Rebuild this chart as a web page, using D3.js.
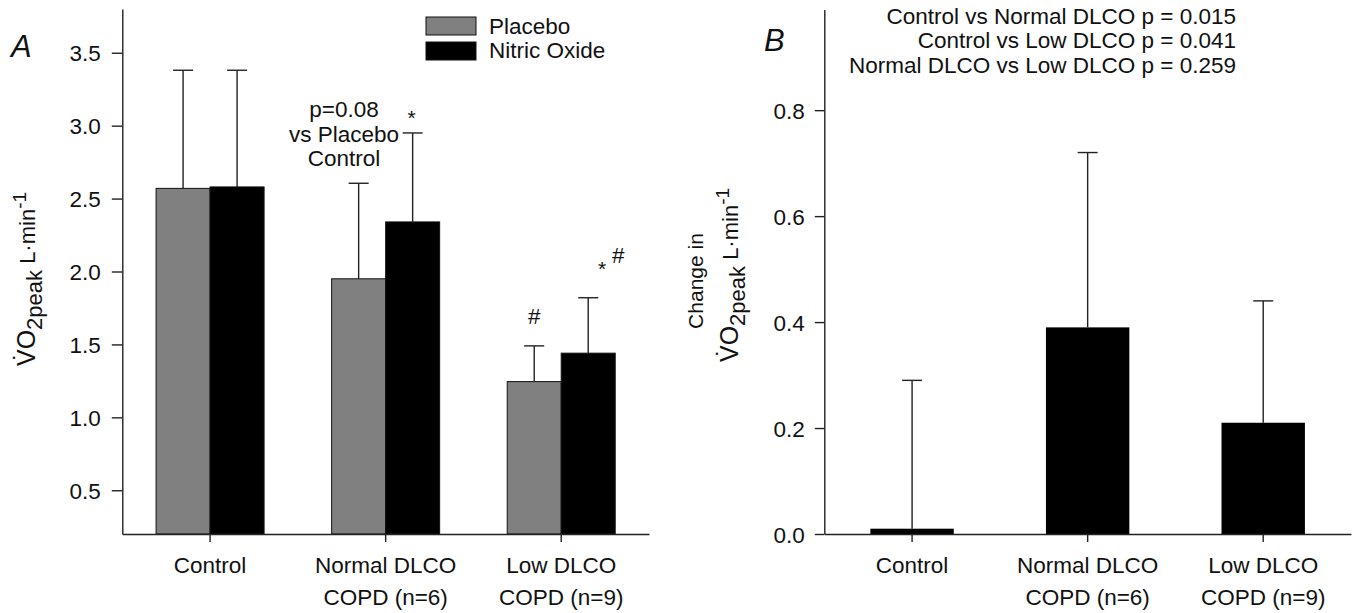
<!DOCTYPE html>
<html><head><meta charset="utf-8">
<script src="https://cdn.jsdelivr.net/npm/d3@7"></script>
<style>
body{margin:0;background:#fff}
svg{display:block}
text{font-family:"Liberation Sans",Arial,sans-serif;fill:#111}
</style>
</head><body>
<svg id="c" width="1354" height="613"></svg>
<script>
// ---------- data ----------
const categories = ["Control", "Normal DLCO\nCOPD (n=6)", "Low DLCO\nCOPD (n=9)"];
const seriesA = ["Placebo", "Nitric Oxide"];
const placeboMean = [2.57, 1.95, 1.245];
const placeboErr  = [0.81, 0.655, 0.245];
const noMean      = [2.58, 2.34, 1.44];
const noErr       = [0.80, 0.61, 0.38];
const ticksA      = [0.5, 1.0, 1.5, 2.0, 2.5, 3.0, 3.5];
const changeMean  = [0.01, 0.39, 0.21];
const changeErr   = [0.28, 0.33, 0.23];
const ticksB      = [0.0, 0.2, 0.4, 0.6, 0.8];
const pValueLines = ["Control vs Normal DLCO p = 0.015", "Control vs Low DLCO p = 0.041", "Normal DLCO vs Low DLCO p = 0.259"];
const noteLines   = ["p=0.08", "vs Placebo", "Control"];

// ---------- setup ----------
const svg = d3.select("#c");
const FS = 22.5, AX = "#222";
const colors = {"Placebo": "#808080", "Nitric Oxide": "#000"};

function styleAxis(g) {
  g.selectAll("path,line").attr("stroke", AX).attr("stroke-width", 1.4);
  g.selectAll("text").style("font-size", FS + "px").attr("fill", "#111");
}
function catLabels(g, x, y0) {
  categories.forEach(c => {
    c.split("\n").forEach((s, i) => {
      g.append("text").attr("x", x(c) + x.bandwidth() / 2).attr("y", y0 + i * 32)
        .attr("text-anchor", "middle").style("font-size", FS + "px").text(s);
    });
  });
}
function yTitle(g, x, y) {
  const t = g.append("text").attr("transform", `translate(${x},${y}) rotate(-90)`)
    .attr("text-anchor", "middle").style("font-size", "22px");
  t.append("tspan").style("font-size", "25px").text("V\u0307O");
  t.append("tspan").attr("dy", "0.3em").text("2peak");
  t.append("tspan").attr("dy", "-0.3em").text(" L\u00B7min");
  t.append("tspan").attr("dy", "-0.45em").style("font-size", "19px").text("-1");
}
function errBar(g, cx, yTop, yBot, half) {
  g.append("line").attr("x1", cx).attr("x2", cx).attr("y1", yBot).attr("y2", yTop)
    .attr("stroke", AX).attr("stroke-width", 1.4);
  g.append("line").attr("x1", cx - half).attr("x2", cx + half).attr("y1", yTop).attr("y2", yTop)
    .attr("stroke", AX).attr("stroke-width", 1.4);
}

// ---------- panel A ----------
const gA = svg.append("g");
const xA = d3.scaleBand().domain(categories).range([122.3, 649]);
const yA = d3.scaleLinear().domain([0.2, 3.8]).range([534, 9]);
const xSub = d3.scaleBand().domain(seriesA).range([-54, 54]);

const dataA = [];
categories.forEach((c, i) => {
  dataA.push({c, s: "Placebo", v: placeboMean[i], e: placeboErr[i]});
  dataA.push({c, s: "Nitric Oxide", v: noMean[i], e: noErr[i]});
});
dataA.forEach(d => {
  const x0 = xA(d.c) + xA.bandwidth() / 2 + xSub(d.s);
  gA.append("rect").attr("x", x0).attr("width", xSub.bandwidth())
    .attr("y", yA(d.v)).attr("height", yA(0.2) - yA(d.v))
    .attr("fill", colors[d.s]).attr("stroke", "#111").attr("stroke-width", 1);
  errBar(gA, x0 + xSub.bandwidth() / 2, yA(d.v + d.e), yA(d.v), 10);
});

const axAy = gA.append("g").attr("transform", `translate(${xA.range()[0]},0)`)
  .call(d3.axisLeft(yA).tickValues(ticksA).tickFormat(d3.format(".1f")).tickSize(10.5).tickSizeOuter(0).tickPadding(11));
styleAxis(axAy);
axAy.selectAll("text").attr("dy", "0.36em");
const axAx = gA.append("g").attr("transform", `translate(0,${yA(0.2)})`)
  .call(d3.axisBottom(xA).tickSize(8).tickSizeOuter(0));
axAx.selectAll("text").remove();
styleAxis(axAx);
catLabels(gA, xA, 573);
yTitle(gA, 35, 279);

gA.append("text").attr("x", 11).attr("y", 57).style("font-size", "31px").style("font-style", "italic").text("A");

// legend
seriesA.forEach((s, i) => {
  gA.append("rect").attr("x", 426).attr("y", 17 + i * 25).attr("width", 50).attr("height", 18)
    .attr("fill", colors[s]).attr("stroke", "#111").attr("stroke-width", 1);
  gA.append("text").attr("x", 489).attr("y", 33.5 + i * 24.5).style("font-size", FS + "px").text(s);
});

// annotations A
noteLines.forEach((s, i) => {
  gA.append("text").attr("x", 344).attr("y", 117 + i * 24.5).attr("text-anchor", "middle")
    .style("font-size", FS + "px").text(s);
});
const cNormNO = xA(categories[1]) + xA.bandwidth() / 2 + xSub("Nitric Oxide") + xSub.bandwidth() / 2;
const cLowP = xA(categories[2]) + xA.bandwidth() / 2 + xSub("Placebo") + xSub.bandwidth() / 2;
const cLowNO = xA(categories[2]) + xA.bandwidth() / 2 + xSub("Nitric Oxide") + xSub.bandwidth() / 2;
gA.append("text").attr("x", cNormNO - 1).attr("y", 125).attr("text-anchor", "middle").style("font-size", "21px").text("*");
gA.append("text").attr("x", cLowP).attr("y", 324).attr("text-anchor", "middle").style("font-size", FS + "px").text("#");
gA.append("text").attr("x", cLowNO + 14).attr("y", 276).attr("text-anchor", "middle").style("font-size", "21px").text("*");
gA.append("text").attr("x", cLowNO + 30).attr("y", 263).attr("text-anchor", "middle").style("font-size", FS + "px").text("#");

// ---------- panel B ----------
const gB = svg.append("g");
const xB = d3.scaleBand().domain(categories).range([824.3, 1351]);
const yB = d3.scaleLinear().domain([0, 0.99]).range([534, 9.5]);
const bw = 83.4;
categories.forEach((c, i) => {
  const cx = xB(c) + xB.bandwidth() / 2;
  gB.append("rect").attr("x", cx - bw / 2).attr("width", bw)
    .attr("y", yB(changeMean[i])).attr("height", yB(0) - yB(changeMean[i]))
    .attr("fill", "#000");
  errBar(gB, cx, yB(changeMean[i] + changeErr[i]), yB(changeMean[i]), 10);
});
const axBy = gB.append("g").attr("transform", `translate(${xB.range()[0]},0)`)
  .call(d3.axisLeft(yB).tickValues(ticksB).tickFormat(d3.format(".1f")).tickSize(9.5).tickSizeOuter(0).tickPadding(10));
styleAxis(axBy);
axBy.selectAll("text").attr("dy", "0.36em");
const axBx = gB.append("g").attr("transform", `translate(0,${yB(0)})`)
  .call(d3.axisBottom(xB).tickSize(8).tickSizeOuter(0));
axBx.selectAll("text").remove();
styleAxis(axBx);
catLabels(gB, xB, 573);

gB.append("text").attr("transform", "translate(703,281) rotate(-90)").attr("text-anchor", "middle")
  .style("font-size", "21px").text("Change in");
yTitle(gB, 738, 275);

gB.append("text").attr("x", 764).attr("y", 51).style("font-size", "31px").style("font-style", "italic").text("B");
pValueLines.forEach((s, i) => {
  gB.append("text").attr("x", 1236).attr("y", 23.5 + i * 24.6).attr("text-anchor", "end")
    .style("font-size", FS + "px").text(s);
});
</script>
</body></html>
